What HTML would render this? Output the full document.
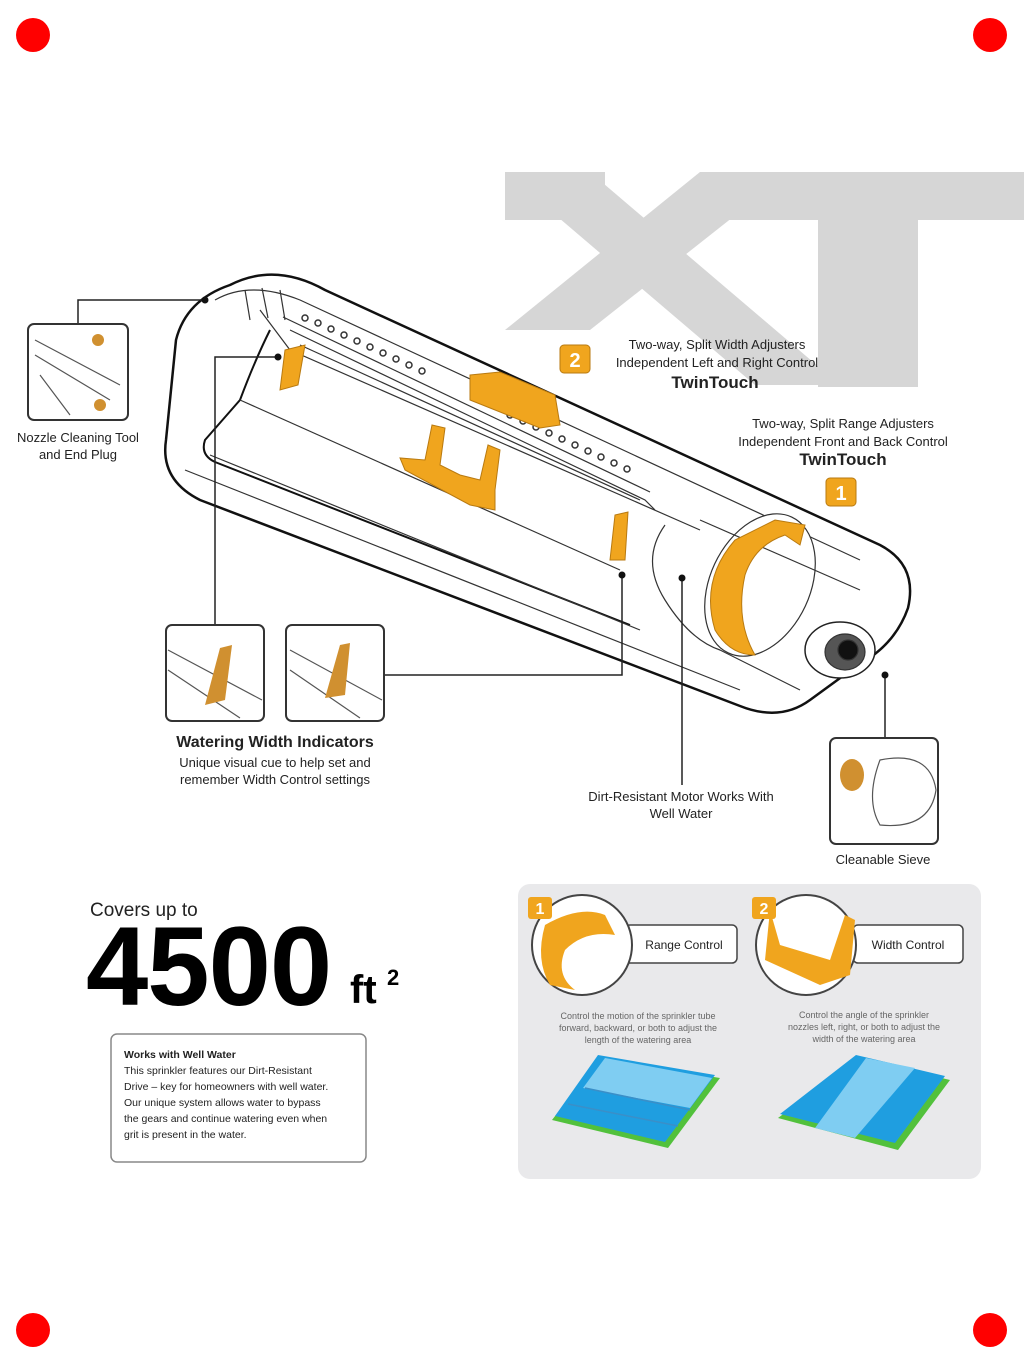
<!DOCTYPE html>
<html><head><meta charset="utf-8"><style>
html,body{margin:0;padding:0;background:#fff}
svg{display:block}
text{font-family:"Liberation Sans",sans-serif}
</style></head><body>
<svg width="1024" height="1365" viewBox="0 0 1024 1365" xmlns="http://www.w3.org/2000/svg">
<rect width="1024" height="1365" fill="#fff"/>
<circle cx="33" cy="35" r="17" fill="#f00"/>
<circle cx="990" cy="35" r="17" fill="#f00"/>
<circle cx="33" cy="1330" r="17" fill="#f00"/>
<circle cx="990" cy="1330" r="17" fill="#f00"/>
<g fill="#d6d6d6">
<polygon points="505,172 590,172 840,385 755,385"/>
<polygon points="700,172 790,172 590,330 505,330"/>
<rect x="505" y="172" width="100" height="48"/>
<rect x="710" y="172" width="314" height="48"/>
<rect x="818" y="172" width="100" height="215"/>
</g>
<g fill="none" stroke="#111" stroke-width="2.5" stroke-linejoin="round">
<path d="M230 285 Q275 262 325 290 L880 545 Q918 565 908 608 Q895 645 858 665 L810 700 Q780 722 740 706 L200 500 Q160 480 166 440 L176 340 Q186 300 230 285 Z" fill="#fff"/>
</g>
<g fill="none" stroke="#333" stroke-width="1.2">
<path d="M215 300 Q250 280 300 300 L860 560"/>
<path d="M185 470 L740 690"/>
<path d="M260 310 Q275 330 290 350 L700 530"/>
<path d="M290 330 L645 500 L655 510" />
<path d="M300 345 L640 500"/>
<path d="M283 317 L650 492"/>
<path d="M270 330 Q255 360 240 400 L205 440 Q200 455 215 462 L630 625" stroke="#111" stroke-width="2"/>
<path d="M240 400 L620 570"/>
<path d="M210 455 L640 630"/>
<path d="M665 525 Q640 560 665 600 Q690 640 720 650 L800 690"/>
<ellipse cx="760" cy="585" rx="50" ry="75" transform="rotate(25 760 585)" fill="#fff"/>
<path d="M700 520 L860 590"/>
<ellipse cx="840" cy="650" rx="35" ry="28" fill="#fff" stroke="#222" stroke-width="1.5"/>
<ellipse cx="845" cy="652" rx="20" ry="18" fill="#555"/>
<ellipse cx="848" cy="650" rx="10" ry="10" fill="#111"/>
<path d="M245 290 L250 320 M262 288 L268 318 M280 290 L285 320"/>
</g>
<g fill="none" stroke="#333" stroke-width="1.5">
<circle cx="305" cy="318" r="3"/><circle cx="318" cy="323" r="3"/><circle cx="331" cy="329" r="3"/><circle cx="344" cy="335" r="3"/><circle cx="357" cy="341" r="3"/><circle cx="370" cy="347" r="3"/><circle cx="383" cy="353" r="3"/><circle cx="396" cy="359" r="3"/><circle cx="409" cy="365" r="3"/><circle cx="422" cy="371" r="3"/>
<circle cx="475" cy="395" r="3"/><circle cx="490" cy="402" r="3"/>
<circle cx="510" cy="415" r="3"/><circle cx="523" cy="421" r="3"/><circle cx="536" cy="427" r="3"/><circle cx="549" cy="433" r="3"/><circle cx="562" cy="439" r="3"/><circle cx="575" cy="445" r="3"/><circle cx="588" cy="451" r="3"/><circle cx="601" cy="457" r="3"/><circle cx="614" cy="463" r="3"/><circle cx="627" cy="469" r="3"/>
</g>
<g fill="#f0a51e" stroke="#b97a10" stroke-width="1">
<path d="M470 375 L500 372 L555 395 L560 425 L540 428 L470 400 Z"/>
<path d="M432 425 L445 428 L440 465 L460 475 L480 480 L488 445 L500 450 L495 490 L495 510 L470 505 L405 470 L400 458 L425 460 Z"/>
<path d="M735 540 Q700 580 715 630 Q730 655 755 655 Q735 620 745 575 Q755 545 785 535 L800 545 L805 525 L775 520 Z"/>
<path d="M285 350 L305 345 L298 385 L280 390 Z"/>
<path d="M615 515 L628 512 L625 560 L610 560 Z"/>
</g>
<rect x="560" y="345" width="30" height="28" rx="4" fill="#f0a51e" stroke="#b97a10"/>
<text x="575" y="367" font-size="20" font-weight="bold" fill="#fff" text-anchor="middle">2</text>
<rect x="826" y="478" width="30" height="28" rx="4" fill="#f0a51e" stroke="#b97a10"/>
<text x="841" y="500" font-size="20" font-weight="bold" fill="#fff" text-anchor="middle">1</text>
<g fill="#222" font-size="13" text-anchor="middle">
<text x="717" y="349">Two-way, Split Width Adjusters</text>
<text x="717" y="367">Independent Left and Right Control</text>
<text x="715" y="388" font-size="17" font-weight="bold">TwinTouch</text>
<text x="843" y="428">Two-way, Split Range Adjusters</text>
<text x="843" y="446">Independent Front and Back Control</text>
<text x="843" y="465" font-size="17" font-weight="bold">TwinTouch</text>
<text x="78" y="442">Nozzle Cleaning Tool</text>
<text x="78" y="459">and End Plug</text>
<text x="275" y="747" font-size="16" font-weight="bold">Watering Width Indicators</text>
<text x="275" y="767">Unique visual cue to help set and</text>
<text x="275" y="784">remember Width Control settings</text>
<text x="681" y="801">Dirt-Resistant Motor Works With</text>
<text x="681" y="818">Well Water</text>
<text x="883" y="864">Cleanable Sieve</text>
</g>
<g fill="none" stroke="#222" stroke-width="1.5">
<path d="M78 325 L78 300 L205 300"/>
<path d="M215 628 L215 357 L278 357"/>
<path d="M385 675 L622 675 L622 575"/>
<path d="M682 578 L682 785"/>
<path d="M885 675 L885 738"/>
</g>
<g fill="#111"><circle cx="205" cy="300" r="3.5"/><circle cx="278" cy="357" r="3.5"/><circle cx="622" cy="575" r="3.5"/><circle cx="682" cy="578" r="3.5"/><circle cx="885" cy="675" r="3.5"/></g>
<g fill="#fff" stroke="#333" stroke-width="2">
<rect x="28" y="324" width="100" height="96" rx="6"/>
<rect x="166" y="625" width="98" height="96" rx="6"/>
<rect x="286" y="625" width="98" height="96" rx="6"/>
<rect x="830" y="738" width="108" height="106" rx="6"/>
</g>
<g fill="none" stroke="#555" stroke-width="1.2">
<path d="M35 340 L120 385 M35 355 L110 400 M40 375 L70 415"/>
<path d="M168 650 L262 700 M168 670 L240 718"/>
<path d="M290 650 L382 700 M290 670 L360 718"/>
<path d="M880 760 Q930 750 936 790 Q930 830 880 825 Q865 800 880 760 Z"/>
</g>
<g fill="#d09030"><circle cx="98" cy="340" r="6"/><circle cx="100" cy="405" r="6"/>
<path d="M220 648 L232 645 L225 700 L205 705 Z"/><path d="M340 645 L350 643 L345 695 L325 698 Z"/>
<ellipse cx="852" cy="775" rx="12" ry="16"/></g>
<text x="90" y="916" font-size="19" fill="#222">Covers up to</text>
<text x="86" y="1005" font-size="112" font-weight="bold" fill="#000" letter-spacing="-1">4500</text>
<text x="350" y="1003" font-size="40" font-weight="bold" fill="#000">ft</text>
<text x="387" y="985" font-size="22" font-weight="bold" fill="#000">2</text>
<rect x="111" y="1034" width="255" height="128" rx="6" fill="#fff" stroke="#888" stroke-width="1.5"/>
<g font-size="10.5" fill="#222">
<text x="124" y="1058" font-weight="bold">Works with Well Water</text>
<text x="124" y="1074">This sprinkler features our Dirt-Resistant</text>
<text x="124" y="1090">Drive – key for homeowners with well water.</text>
<text x="124" y="1106">Our unique system allows water to bypass</text>
<text x="124" y="1122">the gears and continue watering even when</text>
<text x="124" y="1138">grit is present in the water.</text>
</g>
<rect x="518" y="884" width="463" height="295" rx="12" fill="#e9e9eb"/>
<rect x="625" y="925" width="112" height="38" rx="5" fill="#fff" stroke="#444" stroke-width="1.5"/>
<rect x="853" y="925" width="110" height="38" rx="5" fill="#fff" stroke="#444" stroke-width="1.5"/>
<circle cx="582" cy="945" r="50" fill="#fff" stroke="#444" stroke-width="2"/>
<circle cx="806" cy="945" r="50" fill="#fff" stroke="#444" stroke-width="2"/>
<path d="M545 925 Q580 905 605 915 L615 935 Q585 930 565 950 Q555 975 575 990 L550 985 Q535 960 545 925Z" fill="#f0a51e"/>
<path d="M770 910 L780 945 L830 960 L845 915 L855 920 L850 975 L820 985 L765 960 Z" fill="#f0a51e"/>
<rect x="528" y="897" width="24" height="22" rx="3" fill="#f0a51e"/>
<text x="540" y="914" font-size="16" font-weight="bold" fill="#fff" text-anchor="middle">1</text>
<rect x="752" y="897" width="24" height="22" rx="3" fill="#f0a51e"/>
<text x="764" y="914" font-size="16" font-weight="bold" fill="#fff" text-anchor="middle">2</text>
<text x="684" y="949" font-size="12" fill="#222" text-anchor="middle">Range Control</text>
<text x="908" y="949" font-size="12" fill="#222" text-anchor="middle">Width Control</text>
<g font-size="9" fill="#666" text-anchor="middle">
<text x="638" y="1019">Control the motion of the sprinkler tube</text>
<text x="638" y="1031">forward, backward, or both to adjust the</text>
<text x="638" y="1043">length of the watering area</text>
<text x="864" y="1018">Control the angle of the sprinkler</text>
<text x="864" y="1030">nozzles left, right, or both to adjust the</text>
<text x="864" y="1042">width of the watering area</text>
</g>
<polygon points="600,1058 720,1078 668,1148 552,1120" fill="#52c13c"/>
<polygon points="598,1055 715,1075 665,1142 555,1116" fill="#1f9ee0"/>
<polygon points="605,1058 712,1078 690,1108 583,1088" fill="#7fcdf2"/>
<path d="M585 1088 L690 1110 M568 1104 L678 1126" stroke="#3a8fc8" stroke-width="1.5"/>
<polygon points="858,1058 950,1080 898,1150 778,1118" fill="#52c13c"/>
<polygon points="856,1055 945,1076 895,1143 780,1114" fill="#1f9ee0"/>
<polygon points="866,1058 915,1068 855,1138 815,1128" fill="#7fcdf2"/>
</svg>
</body></html>
